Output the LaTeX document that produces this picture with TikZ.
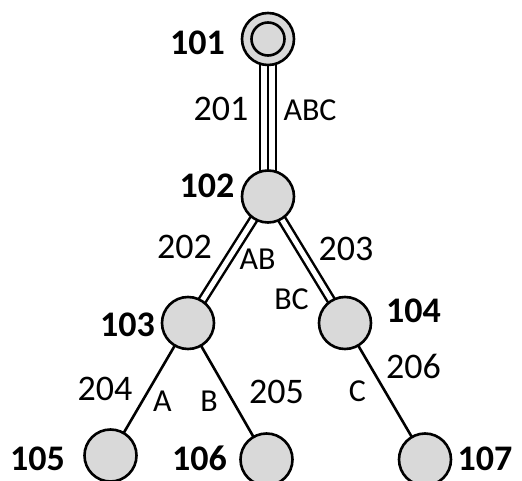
\documentclass[tikz,border=0pt]{standalone}
\usepackage{fontspec}
\setmainfont{Carlito}
\usetikzlibrary{backgrounds}
\definecolor{nodegray}{RGB}{217,217,217}
\begin{document}
\begin{tikzpicture}[x=1pt,y=-1pt,
  vertex/.style={circle,draw,fill=nodegray,line width=2.6pt,minimum size=52pt,inner sep=0pt},
  innerring/.style={circle,draw,fill=nodegray,line width=2.6pt,minimum size=33pt,inner sep=0pt},
  nodeid/.style={font=\fontsize{36}{42}\selectfont\bfseries,inner sep=0pt},
  edgeid/.style={font=\fontsize{36}{42}\selectfont,inner sep=0pt},
  setlabel/.style={font=\fontsize{32}{38}\selectfont,inner sep=0pt},
  single/.style={draw,line width=2.6pt},
  twin/.style={draw,line width=2.5pt,double=white,double distance=5pt},
  triple/.style={draw,line width=2.5pt,double=white,double distance=13.5pt},
  core/.style={draw,line width=2.5pt}]
\useasboundingbox (0,0) rectangle (522,481);

% tree vertices
\node[vertex] (n101) at (268,39) {};
\node[innerring] (n101i) at (n101.center) {};
\node[vertex] (n102) at (268,196.5) {};
\node[vertex] (n103) at (188,323) {};
\node[vertex] (n104) at (345,323) {};
\node[vertex] (n105) at (110.5,455.5) {};
\node[vertex] (n106) at (266.5,459.5) {};
\node[vertex] (n107) at (425,459.5) {};

% links, drawn underneath the vertices
\begin{pgfonlayer}{background}
  \path[triple] (n101.center) -- (n102.center);
  \path[core] (n101.center) -- (n102.center);
  \path[twin] (n102.center) -- (n103.center);
  \path[twin] (n102.center) -- (n104.center);
  \path[single] (n103.center) -- (n105.center);
  \path[single] (n103.center) -- (n106.center);
  \path[single] (n104.center) -- (n107.center);
\end{pgfonlayer}

% vertex numbers
\node[nodeid] (l101) at (197.5,42.5) {101};
\node[nodeid] (l102) at (207,186) {102};
\node[nodeid] (l103) at (127.5,325) {103};
\node[nodeid] (l104) at (413.5,311) {104};
\node[nodeid] (l105) at (37.5,458.5) {105};
\node[nodeid] (l106) at (199.5,458.5) {106};
\node[nodeid] (l107) at (485,458.5) {107};

% link numbers
\node[edgeid] (l201) at (221,108.5) {201};
\node[edgeid] (l202) at (184.5,246.5) {202};
\node[edgeid] (l203) at (346,248.5) {203};
\node[edgeid] (l204) at (105,389) {204};
\node[edgeid] (l205) at (276.5,391.5) {205};
\node[edgeid] (l206) at (413.5,366.5) {206};

% carried sets
\node[setlabel] (sABC) at (310,110) {ABC};
\node[setlabel] (sAB) at (257.5,259) {AB};
\node[setlabel] (sBC) at (291.5,299) {BC};
\node[setlabel] (sA) at (162.5,401) {A};
\node[setlabel] (sB) at (209,401) {B};
\node[setlabel] (sC) at (357.5,391.5) {C};
\end{tikzpicture}
\end{document}
